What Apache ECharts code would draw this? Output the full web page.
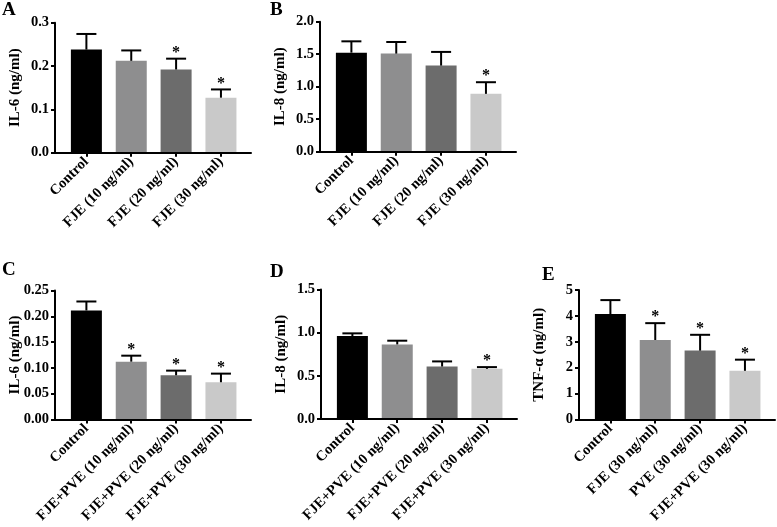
<!DOCTYPE html>
<html>
<head>
<meta charset="utf-8">
<script src="https://cdn.jsdelivr.net/npm/echarts@6/dist/echarts.min.js"></script>
<style>
html,body{margin:0;padding:0;background:#fff;}
#chart{width:777px;height:527px;}
</style>
</head>
<body>
<div id="chart"></div>
<script>
// ---- data ----
const catsAB = ["Control", "FJE (10 ng/ml)", "FJE (20 ng/ml)", "FJE (30 ng/ml)"];
const catsCD = ["Control", "FJE+PVE (10 ng/ml)", "FJE+PVE (20 ng/ml)", "FJE+PVE (30 ng/ml)"];
const catsE  = ["Control", "FJE (30 ng/ml)", "PVE (30 ng/ml)", "FJE+PVE (30 ng/ml)"];

const meanA = [0.238, 0.212, 0.192, 0.127];
const sdA   = [0.036, 0.024, 0.025, 0.019];
const sigA  = [0, 0, 1, 1];

const meanB = [1.524, 1.509, 1.325, 0.890];
const sdB   = [0.174, 0.179, 0.210, 0.179];
const sigB  = [0, 0, 0, 1];

const meanC = [0.2113, 0.1121, 0.0857, 0.0722];
const sdC   = [0.0174, 0.0116, 0.0090, 0.0167];
const sigC  = [0, 1, 1, 1];

const meanD = [0.961, 0.864, 0.608, 0.581];
const sdD   = [0.031, 0.043, 0.059, 0.020];
const sigD  = [0, 0, 0, 1];

const meanE = [4.07, 3.07, 2.66, 1.88];
const sdE   = [0.54, 0.65, 0.61, 0.43];
const sigE  = [0, 1, 1, 1];

const yTitleA = "IL-6 (ng/ml)";
const yTitleB = "IL-8 (ng/ml)";
const yTitleC = "IL-6 (ng/ml)";
const yTitleD = "IL-8 (ng/ml)";
const yTitleE = "TNF-α (ng/ml)";

// ---- style ----
const FONT = "'Liberation Serif', 'Times New Roman', serif";
const COLORS = ["#000000", "#8e8e8f", "#6c6c6c", "#c9c9c9"];
const BAR_W = 31;
const CAP_HALF = 10;

const panels = [
  {letter: "A", cats: catsAB, mean: meanA, sd: sdA, sig: sigA, title: yTitleA, yMax: 0.3, yInt: 0.1, dec: 1,
   left: 55, top: 22.7, height: 130, lx: 2, ly: 1},
  {letter: "B", cats: catsAB, mean: meanB, sd: sdB, sig: sigB, title: yTitleB, yMax: 2.0, yInt: 0.5, dec: 1,
   left: 320, top: 21.7, height: 130, lx: 270, ly: 1},
  {letter: "C", cats: catsCD, mean: meanC, sd: sdC, sig: sigC, title: yTitleC, yMax: 0.25, yInt: 0.05, dec: 2,
   left: 55, top: 290.5, height: 129, lx: 2, ly: 261},
  {letter: "D", cats: catsCD, mean: meanD, sd: sdD, sig: sigD, title: yTitleD, yMax: 1.5, yInt: 0.5, dec: 1,
   left: 321, top: 289.5, height: 129.5, lx: 270, ly: 263},
  {letter: "E", cats: catsE, mean: meanE, sd: sdE, sig: sigE, title: yTitleE, yMax: 5, yInt: 1, dec: 0,
   left: 579, top: 290, height: 129.5, lx: 542, ly: 266}
];

const X_MIN = -0.7, X_MAX = 3.67, GRID_W = 196;

const option = {
  animation: false,
  backgroundColor: "#ffffff",
  title: [], grid: [], xAxis: [], yAxis: [], series: []
};

panels.forEach((p, k) => {
  option.title.push({
    text: p.letter, left: p.lx, top: p.ly, padding: 0,
    textStyle: {fontFamily: FONT, fontWeight: "bold", fontSize: 19, color: "#000"}
  });
  option.grid.push({
    left: p.left, top: p.top, width: GRID_W, height: p.height,
    containLabel: false, outerBoundsMode: "none"
  });
  option.xAxis.push({
    type: "value", gridIndex: k, min: X_MIN, max: X_MAX, z: 5,
    splitLine: {show: false},
    axisLine: {show: true, onZero: false, lineStyle: {color: "#000", width: 2}},
    axisTick: {show: true, customValues: [0, 1, 2, 3], length: 4, lineStyle: {color: "#000", width: 2}},
    axisLabel: {
      show: true, customValues: [0, 1, 2, 3], rotate: 45, margin: 7,
      fontFamily: FONT, fontWeight: "bold", fontSize: 14.5, color: "#000",
      formatter: (v) => p.cats[Math.round(v)] || ""
    }
  });
  option.yAxis.push({
    type: "value", gridIndex: k, min: 0, max: p.yMax, interval: p.yInt, z: 5,
    splitLine: {show: false},
    axisLine: {show: true, onZero: false, lineStyle: {color: "#000", width: 2}},
    axisTick: {show: true, length: 4, lineStyle: {color: "#000", width: 2}},
    axisLabel: {
      margin: 6, fontFamily: FONT, fontWeight: "bold", fontSize: 14.5, color: "#000",
      formatter: (v) => v.toFixed(p.dec)
    },
    name: p.title, nameLocation: "middle", nameRotate: 90, nameGap: 32,
    nameMoveOverlap: false,
    nameTextStyle: {fontFamily: FONT, fontWeight: "bold", fontSize: 15, color: "#000"}
  });
  option.series.push({
    type: "custom", xAxisIndex: k, yAxisIndex: k, clip: false,
    data: p.mean.map((m, i) => [i, m, p.sd[i], p.sig[i]]),
    encode: {x: 0, y: 1},
    renderItem: function (params, api) {
      const i = api.value(0), m = api.value(1), sd = api.value(2), sig = api.value(3);
      const base = api.coord([i, 0]);
      const top = api.coord([i, m]);
      const et = api.coord([i, m + sd]);
      const children = [
        {type: "rect", shape: {x: base[0] - BAR_W / 2, y: top[1], width: BAR_W, height: base[1] - top[1]},
         style: {fill: COLORS[i]}},
        {type: "line", shape: {x1: top[0], y1: top[1], x2: et[0], y2: et[1]},
         style: {stroke: "#000", lineWidth: 2}},
        {type: "line", shape: {x1: et[0] - CAP_HALF, y1: et[1], x2: et[0] + CAP_HALF, y2: et[1]},
         style: {stroke: "#000", lineWidth: 2}}
      ];
      if (sig) {
        children.push({type: "text", x: et[0], y: et[1] - 6,
          style: {text: "*", fill: "#000", font: "bold 16px " + FONT, align: "center", verticalAlign: "middle"}});
      }
      return {type: "group", children: children};
    }
  });
});

const chart = echarts.init(document.getElementById("chart"), null, {renderer: "canvas"});
chart.setOption(option);
</script>
</body>
</html>
